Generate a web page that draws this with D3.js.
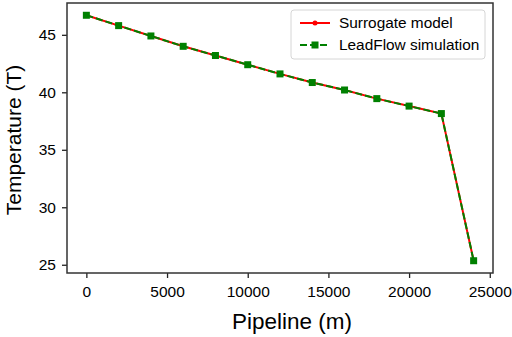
<!DOCTYPE html>
<html>
<head>
<meta charset="utf-8">
<script src="https://cdn.jsdelivr.net/npm/d3@7"></script>
<style>
  body { margin: 0; background: #fff; }
  svg { display: block; font-family: "Liberation Sans", Arial, sans-serif; }
</style>
</head>
<body>
<script>
// pipeline positions (m)
var distance = [0, 2000, 4000, 6000, 8000, 10000, 12000, 14000, 16000, 18000, 20000, 22000, 24000];
// temperatures
var surrogate = [46.7, 45.8, 44.9, 44.0, 43.2, 42.4, 41.6, 40.85, 40.2, 39.45, 38.8, 38.15, 25.35];
var leadflow = [46.7, 45.8, 44.9, 44.0, 43.2, 42.4, 41.6, 40.85, 40.2, 39.45, 38.8, 38.15, 25.35];
var xTicks = [0, 5000, 10000, 15000, 20000, 25000];
var yTicks = [25, 30, 35, 40, 45];
var seriesNames = ['Surrogate model', 'LeadFlow simulation'];

var W = 512, H = 337;
// plot box (window.top is taken, so prefixed names)
var pLeft = 67, pRight = 493, pTop = 3, pBottom = 273;

var svg = d3.select('body').append('svg')
      .attr('width', W)
      .attr('height', H);

// matplotlib style 5% margins
var xExt = d3.extent(distance);
var xPad = (xExt[1] - xExt[0]) * 0.05;
var x = d3.scaleLinear().domain([xExt[0] - xPad, xExt[1] + xPad]).range([pLeft, pRight]);
var yExt = d3.extent(surrogate.concat(leadflow));
var yPad = (yExt[1] - yExt[0]) * 0.05;
var y = d3.scaleLinear().domain([yExt[0] - yPad, yExt[1] + yPad]).range([pBottom, pTop]);

var xAxis = svg.append('g')
  .attr('transform', 'translate(0,' + pBottom + ')')
  .call(d3.axisBottom(x).tickValues(xTicks).tickSize(5).tickPadding(8).tickFormat(d3.format('d')));
var yAxis = svg.append('g')
  .attr('transform', 'translate(' + pLeft + ',0)')
  .call(d3.axisLeft(y).tickValues(yTicks).tickSize(5).tickPadding(6).tickFormat(d3.format('d')));

[xAxis, yAxis].forEach(function(g) {
  g.select('.domain').remove();
  g.selectAll('line').attr('stroke', '#222').attr('stroke-width', 1.3);
  g.selectAll('text').attr('fill', '#000').style('font-size', '15.5px');
});

// frame
svg.append('rect')
  .attr('x', pLeft).attr('y', pTop)
  .attr('width', pRight - pLeft).attr('height', pBottom - pTop)
  .attr('fill', 'none')
  .attr('stroke', '#333')
  .attr('stroke-width', 1.5);

var line = d3.line()
  .x(function(d) { return x(d[0]); })
  .y(function(d) { return y(d[1]); });

var redPts = d3.zip(distance, surrogate);
var greenPts = d3.zip(distance, leadflow);

svg.append('path')
  .datum(redPts)
  .attr('d', line)
  .attr('fill', 'none')
  .attr('stroke', '#ff0000')
  .attr('stroke-width', 2);

svg.selectAll('.dot')
  .data(redPts)
  .enter()
  .append('circle')
  .classed('dot', true)
  .attr('cx', function(d) { return x(d[0]); })
  .attr('cy', function(d) { return y(d[1]); })
  .attr('r', 2.5)
  .attr('fill', '#ff0000');

svg.append('path')
  .datum(greenPts)
  .attr('d', line)
  .attr('fill', 'none')
  .attr('stroke', '#008000')
  .attr('stroke-width', 2)
  .attr('stroke-dasharray', '7,3');

svg.selectAll('.sq')
  .data(greenPts)
  .enter()
  .append('rect')
  .classed('sq', true)
  .attr('x', function(d) { return x(d[0]) - 3.5; })
  .attr('y', function(d) { return y(d[1]) - 3.5; })
  .attr('width', 7)
  .attr('height', 7)
  .attr('fill', '#008000');

// legend
var lg = svg.append('g').attr('transform', 'translate(291,10)');
lg.append('rect')
  .attr('width', 194).attr('height', 49)
  .attr('rx', 3)
  .attr('fill', 'rgba(255,255,255,0.8)')
  .attr('stroke', '#d6d6d6');

var items = lg.selectAll('.item')
  .data(seriesNames)
  .enter()
  .append('g')
  .attr('transform', function(d, i) { return 'translate(0,' + (13 + i * 22) + ')'; });

items.append('line')
  .attr('x1', 9).attr('x2', 39)
  .attr('stroke', function(d, i) { return i ? '#008000' : '#ff0000'; })
  .attr('stroke-width', 2)
  .attr('stroke-dasharray', function(d, i) { return i ? '7,3' : null; });
items.filter(function(d, i) { return i === 0; })
  .append('circle').attr('cx', 24).attr('r', 2.5).attr('fill', '#ff0000');
items.filter(function(d, i) { return i === 1; })
  .append('rect').attr('x', 20.5).attr('y', -3.5).attr('width', 7).attr('height', 7).attr('fill', '#008000');
items.append('text')
  .attr('x', 48)
  .attr('dy', '0.35em')
  .style('font-size', '15.4px')
  .attr('fill', '#000')
  .text(function(d) { return d; });

// axis titles
svg.append('text')
  .attr('x', (pLeft + pRight) / 2 + 12)
  .attr('y', 329)
  .attr('text-anchor', 'middle')
  .style('font-size', '22.5px')
  .attr('fill', '#000')
  .text('Pipeline (m)');

svg.append('text')
  .attr('transform', 'translate(21,' + 140 + ') rotate(-90)')
  .attr('text-anchor', 'middle')
  .style('font-size', '21px')
  .attr('fill', '#000')
  .text('Temperature (T)');
</script>
</body>
</html>
